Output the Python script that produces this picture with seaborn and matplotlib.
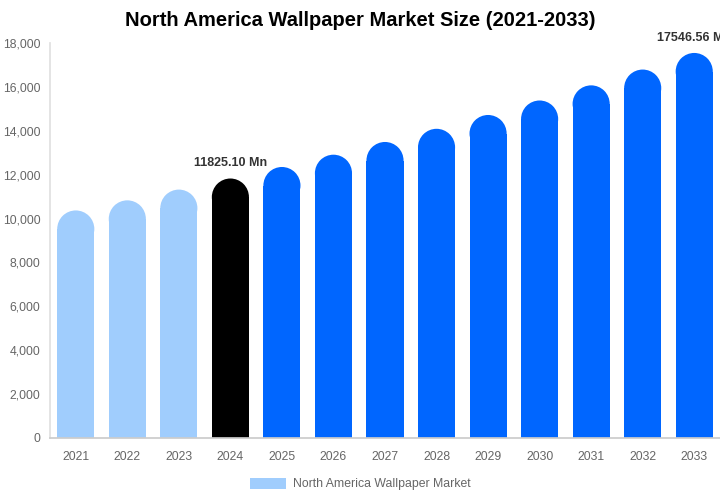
import matplotlib
matplotlib.use("Agg")
import matplotlib.pyplot as plt
import seaborn as sns
import numpy as np
import pandas as pd
from matplotlib.patches import Ellipse, Patch
from matplotlib.ticker import FuncFormatter

years = ["2021", "2022", "2023", "2024", "2025", "2026", "2027",
         "2028", "2029", "2030", "2031", "2032", "2033"]
values = [10370, 10830, 11320, 11825.10, 12350, 12910, 13490,
          14090, 14720, 15380, 16070, 16790, 17546.56]
colors = ["#a0cdfd"] * 3 + ["#000000"] + ["#0066ff"] * 9
annotations = {"2024": "11825.10 Mn", "2033": "17546.56 Mn"}
legend_label = "North America Wallpaper Market"
title = "North America Wallpaper Market Size (2021-2033)"

sns.set_theme(style="white")
plt.rcParams["font.family"] = ["Liberation Sans", "DejaVu Sans"]

fig = plt.figure(figsize=(7.2, 5.0), dpi=100)
ax = fig.add_axes([50 / 720, 1 - 438 / 500, 670 / 720, 395 / 500])

df = pd.DataFrame({"year": years, "value": values})
bar_w = 0.72
sns.barplot(data=df, x="year", y="value", hue="year", palette=colors,
            width=bar_w, legend=False, ax=ax, saturation=1,
            edgecolor="none", linewidth=0)

ymax = 18000
ax.set_ylim(0, ymax)
ax.set_xlim(-0.5, len(years) - 0.5)

# rounded tops
ax_h_px = 395
ax_w_px = 670
bw_px = bar_w * ax_w_px / len(years)
r_data = (bw_px / 2) * ymax / ax_h_px
for p in list(ax.patches):
    h = p.get_height()
    x = p.get_x()
    w = p.get_width()
    p.set_height(h - r_data)
    e = Ellipse((x + w / 2, h - r_data), width=w, height=2 * r_data,
                facecolor=p.get_facecolor(), edgecolor="none", linewidth=0)
    ax.add_patch(e)

for i, y in enumerate(years):
    if y in annotations:
        ax.text(i, values[i] + 420, annotations[y], ha="center", va="bottom",
                fontsize=9, fontweight="bold", color="#333333", clip_on=False)

ax.yaxis.set_major_formatter(FuncFormatter(lambda v, _: f"{int(v):,}"))
ax.set_yticks(np.arange(0, ymax + 1, 2000))
ax.tick_params(axis="y", length=0, pad=7, labelsize=8.8, labelcolor="#666666")
ax.tick_params(axis="x", length=0, pad=9, labelsize=8.8, labelcolor="#666666")
ax.set_xlabel("")
ax.set_ylabel("")
for s in ["top", "right"]:
    ax.spines[s].set_visible(False)
ax.spines["left"].set_color("#e0e0e0")
ax.spines["bottom"].set_color("#cccccc")
ax.grid(False)

fig.text(0.5, 1 - 21 / 500, title, ha="center", va="center",
         fontsize=14.5, fontweight="bold", color="#000000")

handle = Patch(facecolor="#a0cdfd", edgecolor="none", label=legend_label)
fig.legend(handles=[handle], loc="center", bbox_to_anchor=(0.5, 1 - 484 / 500),
           frameon=False, fontsize=8.8, labelcolor="#666666",
           handlelength=3.0, handleheight=1.0, handletextpad=0.5)

fig.savefig("out.png", dpi=100)
